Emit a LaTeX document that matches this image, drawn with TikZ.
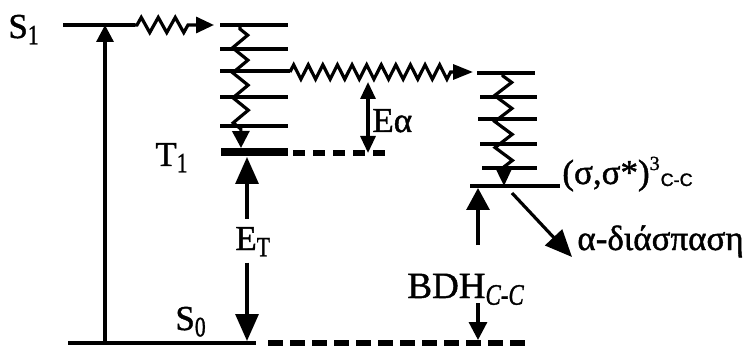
\documentclass[tikz,border=0pt]{standalone}
\usepackage{graphicx}
\usepackage{fontspec}
\setmainfont{Liberation Serif}[FakeBold=1.2]
\newfontfamily\sansf{Liberation Sans}[FakeBold=1.2]
\usetikzlibrary{arrows.meta,decorations.pathmorphing}
\newcommand{\lsub}[1]{\raisebox{-0.18em}{\scalebox{0.62}[0.8]{#1}}}
\begin{document}
\begin{tikzpicture}[x=0.5pt,y=-0.5pt,
  lvl/.style={line width=1.6pt},
  tlvl/.style={line width=3.8pt},
  dlvl/.style={line width=3pt, dash pattern=on 6pt off 4pt},
  lbl/.style={inner sep=0pt, anchor=base west, font=\fontsize{17.5}{20}\selectfont},
  tipS/.style={-{Triangle[length=8.5pt,width=8.5pt]}},
  tipM/.style={-{Triangle[length=11pt,width=11.5pt]}},
  tipD/.style={-{Triangle[length=9pt,width=9pt]}},
  tipE/.style={{Triangle[length=8.5pt,width=7.5pt]}-{Triangle[length=8.5pt,width=7.5pt]}},
  tipB/.style={-{Triangle[length=13.5pt,width=11.5pt]}},
  wavyS/.style={lvl, decorate, decoration={zigzag, segment length=8.5pt, amplitude=3.8pt, pre length=1pt, post length=9pt}, -{Triangle[length=9pt,width=8pt]}},
  wavyV/.style={lvl, decorate, decoration={zigzag, segment length=12.5pt, amplitude=3.8pt, pre length=1pt, post length=9pt}, -{Triangle[length=8.5pt,width=8.5pt]}},
  wavyH/.style={lvl, decorate, decoration={zigzag, segment length=7.3pt, amplitude=3.6pt, pre length=0pt, post length=10pt}, -{Triangle[length=10pt,width=7.5pt]}},
  wavyR/.style={lvl, decorate, decoration={zigzag, segment length=13pt, amplitude=4.3pt, pre length=1pt, post length=9.5pt}, -{Triangle[length=9.5pt,width=8.5pt]}}
]
\fill[white] (0,0) rectangle (743,347);
\useasboundingbox (0,0) rectangle (743,347);

% S1 level
\coordinate (S1L) at (63,25);
\coordinate (S1R) at (135,25);
\coordinate (S1tip) at (214,25);
\draw[lvl] (S1L) -- (S1R);
\draw[wavyS] (S1R) -- (S1tip);

% S0 level
\coordinate (S0L) at (68,343);
\coordinate (S0R) at (256,343);
\draw[line width=2.3pt] (S0L) -- (S0R);
\coordinate (S0dA) at (268,343);
\coordinate (S0dB) at (529,343);
\draw[line width=3pt, dash pattern=on 7.5pt off 3.5pt] (S0dA) -- (S0dB);

% excitation arrow
\coordinate (excA) at (105,343);
\coordinate (excB) at (105,25);
\draw[lvl, tipS] (excA) -- (excB);

% triplet vibrational manifold
\foreach \yy/\xe in {25/288,49/288,71/290,97/288,126/288}
  \draw[lvl] (220,\yy) -- (\xe,\yy);
\coordinate (T1L) at (221,152);
\coordinate (T1R) at (288,152);
\draw[tlvl] (T1L) -- (T1R);
\coordinate (T1dA) at (293,153);
\coordinate (T1dB) at (392,153);
\draw[dlvl] (T1dA) -- (T1dB);
\coordinate (TwA) at (240,27);
\coordinate (TwB) at (241,148);
\draw[wavyV] (TwA) -- (TwB);

% horizontal crossing
\coordinate (HwA) at (290,72);
\coordinate (HwB) at (473,72);
\draw[wavyH] (HwA) -- (HwB);

% E alpha
\coordinate (EaA) at (368,82);
\coordinate (EaB) at (368,153);
\draw[lvl, tipE] (EaA) -- (EaB);
\node[lbl] (Ea) at (372,132) {Eα};

% right manifold
\foreach \yy/\xa/\xe in {73/477/535,97/480/537,119/478/537,144/480/537,168/482/537}
  \draw[lvl] (\xa,\yy) -- (\xe,\yy);
\coordinate (RL) at (470,186);
\coordinate (RR) at (560,186);
\draw[lvl] (RL) -- (RR);
\coordinate (RwA) at (503,74);
\coordinate (RwB) at (504,186);
\draw[wavyR] (RwA) -- (RwB);

% E_T
\node[lbl] (ET) at (235,250) {E\lsub{T}};
\coordinate (ETtop) at (247,157);
\coordinate (ETbot) at (247,341);
\draw[lvl, tipB] (ET.north -| ETtop) ++(0,-8) -- (ETtop);
\draw[lvl, tipB] (ET.south -| ETbot) ++(0,6) -- (ETbot);

% BDH
\node[lbl, font=\fontsize{18.5}{20}\selectfont] (BDH) at (407,298) {BDH\lsub{\textit{C-C}}};
\coordinate (BDtop) at (478,188);
\coordinate (BDbot) at (478,340);
\draw[lvl, tipM] (478,245) -- (BDtop);
\draw[lvl, tipD] (478,303) -- (BDbot);

% alpha cleavage
\coordinate (acA) at (512,193);
\coordinate (acB) at (572,257);
\draw[lvl, tipB] (acA) -- (acB);
\node[lbl] (ac) at (577,250) {α-διάσπαση};

% state labels
\node[lbl] (lS1) at (8,38) {S\lsub{1}};
\node[lbl] (lT1) at (155,166) {T\lsub{1}};
\node[lbl] (lS0) at (175,330) {S\lsub{0}};
\node[lbl] (sig) at (562,184) {(σ,σ*)\raisebox{7pt}{\fontsize{10}{10}\selectfont 3}\hspace{0.5pt}\raisebox{-1pt}{\sansf\fontsize{9}{9}\selectfont C-C}};
\end{tikzpicture}
\end{document}
